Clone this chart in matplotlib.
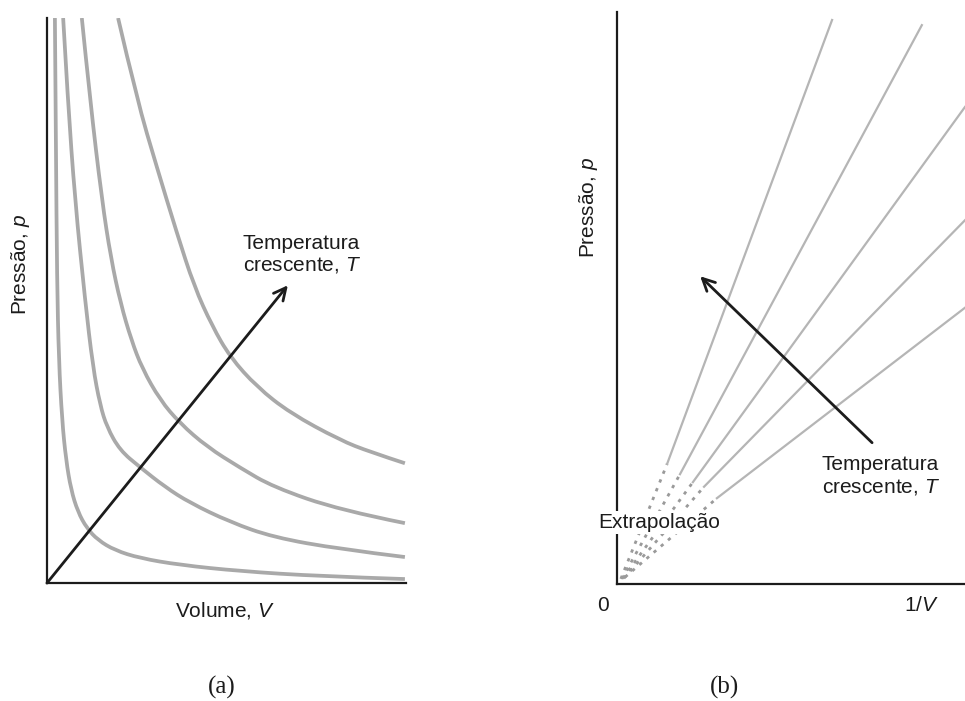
import numpy as np
import matplotlib
matplotlib.use("Agg")
import matplotlib.pyplot as plt
from matplotlib.path import Path
from matplotlib.patches import PathPatch

plt.rcParams['font.family'] = ['Liberation Sans', 'DejaVu Sans']
plt.rcParams['mathtext.fontset'] = 'custom'
plt.rcParams['mathtext.rm'] = 'Liberation Sans'
plt.rcParams['mathtext.it'] = 'Liberation Sans:italic'

# (a) isotermas p x V (V, p em unidades arbitrárias 0-10)
iso1_V = [0.22, 0.25, 0.28, 0.33, 0.42, 0.53, 0.67, 0.86, 1.11, 1.42, 1.89, 2.59, 3.70, 5.38, 7.60, 9.97]
iso1_p = [10.0, 7.66, 5.36, 3.95, 2.88, 2.18, 1.65, 1.26, 0.97, 0.76, 0.58, 0.44, 0.32, 0.21, 0.12, 0.07]
iso2_V = [0.45, 0.58, 0.78, 1.06, 1.28, 1.48, 1.67, 2.03, 2.59, 3.29, 3.98, 5.10, 6.30, 8.16, 9.97]
iso2_p = [10.0, 8.55, 6.78, 5.01, 3.82, 3.15, 2.76, 2.35, 2.05, 1.70, 1.42, 1.08, 0.81, 0.60, 0.46]
iso3_V = [0.97, 1.20, 1.53, 1.78, 2.05, 2.35, 2.65, 3.15, 3.70, 4.46, 5.38, 6.30, 8.16, 9.97]
iso3_p = [10.0, 8.55, 6.78, 5.75, 4.95, 4.30, 3.80, 3.24, 2.83, 2.41, 2.04, 1.70, 1.29, 1.06]
iso4_V = [1.98, 2.51, 3.06, 3.62, 4.10, 4.60, 5.10, 5.85, 6.77, 8.16, 9.00, 9.97]
iso4_p = [10.0, 8.55, 7.36, 6.19, 5.25, 4.55, 4.00, 3.47, 3.01, 2.53, 2.32, 2.12]

# (b) p x 1/V: início extrapolado, início medido, fim medido
lin_x0 = [0.11, 0.14, 0.17, 0.20, 0.23]
lin_y0 = [0.09, 0.09, 0.10, 0.10, 0.12]
lin_x1 = [1.44, 1.81, 2.18, 2.50, 2.87]
lin_y1 = [2.10, 1.92, 1.78, 1.70, 1.50]
lin_x2 = [6.18, 8.76, 10.0, 10.0, 10.0]
lin_y2 = [9.86, 9.77, 8.34, 6.36, 4.83]

txt_T = 'Temperatura\ncrescente, $T$'
fs = 15
ink = '#1c1c1c'


def smooth_path(xs, ys):
    # curva suave: pontos lidos como pontos de controle de beziers quadraticas
    pts = list(zip(xs, ys))
    verts = [pts[0]]
    codes = [Path.MOVETO]
    for i in range(1, len(pts) - 1):
        mid = ((pts[i][0] + pts[i + 1][0]) / 2, (pts[i][1] + pts[i + 1][1]) / 2)
        if i == len(pts) - 2:
            mid = pts[-1]
        verts += [pts[i], mid]
        codes += [Path.CURVE3, Path.CURVE3]
    return Path(verts, codes)


fig = plt.figure(figsize=(9.65, 7.01), dpi=100)
ax_a = fig.add_axes([0.0487, 0.1683, 0.3720, 0.8060])
ax_b = fig.add_axes([0.6394, 0.1669, 0.3606, 0.8160])

for ax in (ax_a, ax_b):
    ax.set_xlim(0, 10)
    ax.set_ylim(0, 10)
    ax.set_xticks([])
    ax.set_yticks([])
    for s in ['top', 'right']:
        ax.spines[s].set_visible(False)
    for s in ['left', 'bottom']:
        ax.spines[s].set_linewidth(1.6)
        ax.spines[s].set_color(ink)

# ---- painel (a)
for V, p in [(iso1_V, iso1_p), (iso2_V, iso2_p), (iso3_V, iso3_p), (iso4_V, iso4_p)]:
    ax_a.add_patch(PathPatch(smooth_path(V, p), facecolor='none', edgecolor='#a9a9a9',
                             lw=2.7, capstyle='butt'))
ax_a.annotate('', xy=(6.71, 5.27), xytext=(0, 0),
              arrowprops=dict(arrowstyle='->', lw=2.0, color=ink, mutation_scale=22,
                              shrinkA=0, shrinkB=0), annotation_clip=False)
ax_a.text(5.46, 5.82, txt_T, fontsize=fs, ha='left', va='center', color=ink, linespacing=1.15)
ax_a.text(-0.75, 5.63, 'Pressão, $p$', fontsize=fs, rotation=90, ha='center', va='center', color=ink)
ax_a.text(4.96, -0.48, 'Volume, $V$', fontsize=fs, ha='center', va='center', color=ink)

# ---- painel (b)
for i in range(len(lin_x0)):
    ax_b.plot([lin_x0[i], lin_x1[i]], [lin_y0[i], lin_y1[i]], color='#9a9a9a', lw=2.0,
              ls=(0, (1.2, 2.2)))
    ax_b.plot([lin_x1[i], lin_x2[i]], [lin_y1[i], lin_y2[i]], color='#b5b5b5', lw=1.6)
ax_b.annotate('', xy=(2.39, 5.38), xytext=(7.33, 2.47),
              arrowprops=dict(arrowstyle='->', lw=2.0, color=ink, mutation_scale=22,
                              shrinkA=0, shrinkB=0), annotation_clip=False)
ax_b.text(5.89, 1.89, txt_T, fontsize=fs, ha='left', va='center', color=ink, linespacing=1.15)
ax_b.text(-0.55, 1.07, 'Extrapolação', fontsize=fs, ha='left', va='center', color=ink,
          bbox=dict(facecolor='white', edgecolor='none', pad=1.5), zorder=5)
ax_b.text(-0.83, 6.59, 'Pressão, $p$', fontsize=fs, rotation=90, ha='center', va='center', color=ink)
ax_b.text(-0.40, -0.37, '0', fontsize=fs, ha='center', va='center', color=ink)
ax_b.text(8.75, -0.37, '1/$V$', fontsize=fs, ha='center', va='center', color=ink)

fig.text(0.230, 0.020, '(a)', fontsize=18, family='Liberation Serif', ha='center', va='center', color=ink)
fig.text(0.751, 0.020, '(b)', fontsize=18, family='Liberation Serif', ha='center', va='center', color=ink)

fig.savefig('out.png', dpi=100)
